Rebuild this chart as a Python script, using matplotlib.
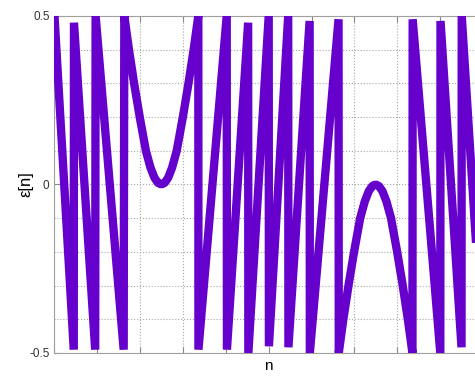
import matplotlib
matplotlib.use("Agg")
import matplotlib.pyplot as plt
import numpy as np

# sample index of each vertex of the error trace
n_pts = [0.0, 4.5, 4.55, 9.5, 9.6, 16.15,
         # first (upright) parabola
         16.3, 17.38, 18.58, 19.9, 21.33, 22.41, 23.33, 24.13, 24.93,
         25.73, 26.53, 27.45, 28.53, 29.96, 31.28, 32.48, 33.57,
         # rising ramps with drops
         33.6, 40.2, 40.25, 45.2, 45.25, 50.0, 50.05, 54.55, 54.6,
         59.55, 59.6, 66.3,
         # second (inverted) parabola
         66.35, 67.42, 68.62, 69.92, 71.35, 72.43, 73.35, 74.15, 74.95,
         75.75, 76.55, 77.47, 78.55, 79.98, 81.28, 82.48, 83.55,
         # falling ramps with jumps
         83.6, 90.05, 90.1, 95.0, 95.05, 100.0]

eps_pts = [0.5, -0.49, 0.48, -0.49, 0.5, -0.49,
           0.5, 0.4, 0.3, 0.2, 0.1, 0.05, 0.02, 0.005, 0.0,
           0.005, 0.02, 0.05, 0.1, 0.2, 0.3, 0.4, 0.5,
           -0.49, 0.5, -0.49, 0.48, -0.5, 0.5, -0.48, 0.5, -0.483,
           0.485, -0.5, 0.49,
           -0.5, -0.4, -0.3, -0.2, -0.1, -0.05, -0.02, -0.005, 0.0,
           -0.005, -0.02, -0.05, -0.1, -0.2, -0.3, -0.4, -0.5,
           0.49, -0.5, 0.485, -0.483, 0.5, -0.5]

y_ticks = [-0.5, 0, 0.5]
y_tick_labels = ["-0.5", "0", "0.5"]

plt.rcParams['font.family'] = ['Liberation Sans', 'DejaVu Sans']

fig = plt.figure(figsize=(4.75, 3.77), dpi=100)
ax = fig.add_axes([0.1147, 0.0637, 0.902, 0.894])

ax.plot(n_pts, eps_pts, color='#6600cc', lw=6,
        solid_joinstyle='bevel', solid_capstyle='butt', zorder=3)

ax.set_xlim(0, 100)
ax.set_ylim(-0.5, 0.5)
ax.set_xticks(np.arange(0, 101, 10))
ax.set_xticklabels([])
ax.set_yticks(y_ticks)
ax.set_yticklabels(y_tick_labels)
ax.set_yticks(np.arange(-0.5, 0.51, 0.1), minor=True)

ax.grid(True, which='both', linestyle=':', color='#a8a8a8', lw=0.8)
ax.tick_params(which='both', direction='in', length=4, color='#888888',
               labelsize=8.5, labelcolor='#333333', top=True, right=True)
ax.tick_params(axis='y', which='minor', length=0)
for side in ax.spines.values():
    side.set_color('#a0a0a0')
    side.set_linewidth(0.8)

ax.set_xlabel('n', fontsize=11)
ax.set_ylabel('ε[n]', fontsize=12)
ax.yaxis.set_label_coords(-0.05, 0.5)
ax.xaxis.set_label_coords(0.5, -0.018)

fig.savefig('out.png', dpi=100)
